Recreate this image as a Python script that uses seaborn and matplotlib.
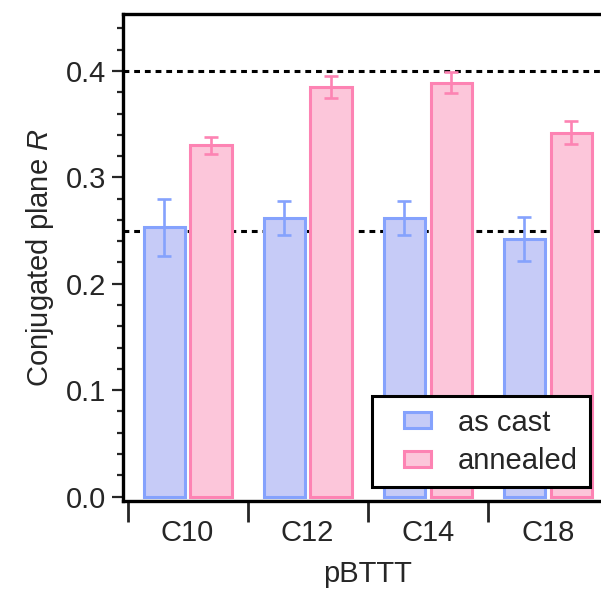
import matplotlib
matplotlib.use("Agg")
import matplotlib.pyplot as plt
import seaborn as sns
import pandas as pd
import numpy as np
from matplotlib.patches import Patch, Rectangle
from matplotlib.legend_handler import HandlerPatch
from matplotlib.container import BarContainer
from matplotlib.ticker import FormatStrFormatter, MultipleLocator, FixedLocator

# ---- data ----
categories = ["C10", "C12", "C14", "C18"]
conditions = ["as cast", "annealed"]
as_cast = [0.253, 0.262, 0.262, 0.242]
as_cast_err = [0.027, 0.016, 0.016, 0.021]
annealed = [0.330, 0.385, 0.389, 0.342]
annealed_err = [0.008, 0.010, 0.010, 0.011]
ref_lines = [0.25, 0.40]

fill_colors = ["#c6cbf7", "#fcc6da"]
edge_colors = ["#85a2fd", "#fd83b3"]

sns.set_style("ticks")
plt.rcParams["font.family"] = ["Liberation Sans", "DejaVu Sans"]
plt.rcParams["mathtext.fontset"] = "custom"
plt.rcParams["mathtext.rm"] = "Liberation Sans"
plt.rcParams["mathtext.it"] = "Liberation Sans:italic"

df = pd.DataFrame({
    "pBTTT": categories * 2,
    "cond": [conditions[0]] * len(categories) + [conditions[1]] * len(categories),
    "R": as_cast + annealed,
})

fig = plt.figure(figsize=(6.01, 5.91), dpi=100)
ax = fig.add_axes([123 / 601, 1 - 501 / 591, 489.4 / 601, 487 / 591])

sns.barplot(data=df, x="pBTTT", y="R", hue="cond", order=categories,
            hue_order=conditions, palette=fill_colors, saturation=1,
            width=0.78, gap=0.12, errorbar=None, linewidth=2.2,
            legend=False, ax=ax)

values = [as_cast, annealed]
errs = [as_cast_err, annealed_err]
bar_containers = [c for c in ax.containers if isinstance(c, BarContainer)]
for ci, cont in enumerate(bar_containers):
    xs = []
    for p in cont.patches:
        p.set_edgecolor(edge_colors[ci])
        p.set_linewidth(2.2)
        p.set_zorder(1)
        xs.append(p.get_x() + p.get_width() / 2)
    ax.errorbar(xs, values[ci], yerr=errs[ci], fmt="none",
                ecolor=edge_colors[ci], elinewidth=1.9, capsize=4.8,
                capthick=1.9, zorder=3)

for yv in ref_lines:
    ax.axhline(yv, color="black", lw=2.2, dashes=(1.9, 1.6), zorder=0.5)

ax.set_ylim(-0.0042, 0.4536)
ax.set_xlim(-0.5375, 3.5375)

ax.yaxis.set_major_locator(MultipleLocator(0.1))
ax.yaxis.set_minor_locator(MultipleLocator(0.02))
ax.yaxis.set_major_formatter(FormatStrFormatter("%.1f"))
ax.xaxis.set_minor_locator(FixedLocator([-0.5, 0.5, 1.5, 2.5, 3.5]))

ax.tick_params(axis="y", which="major", length=8, width=1.6, labelsize=21, pad=4)
ax.tick_params(axis="y", which="minor", length=4.5, width=1.6)
ax.tick_params(axis="x", which="major", length=0, labelsize=21, pad=13)
ax.tick_params(axis="x", which="minor", length=15, width=2)

for s in ax.spines.values():
    s.set_linewidth(2.4)
    s.set_color("black")

ax.set_ylabel("Conjugated plane $\\mathit{R}$", fontsize=21, labelpad=7)
ax.set_xlabel("pBTTT", fontsize=21, labelpad=9)


def make_rect(legend, orig_handle, xdescent, ydescent, width, height, fontsize):
    w, h = 19.4, 11.5
    return Rectangle((-xdescent + width - w, -ydescent + (height - h) / 2), w, h)


handles = [Patch(facecolor=fill_colors[i], edgecolor=edge_colors[i], linewidth=2.2)
           for i in range(len(conditions))]
leg = ax.legend(handles, conditions, loc="lower right",
                bbox_to_anchor=(590 / 601, 1 - 487 / 591),
                bbox_transform=fig.transFigure, borderaxespad=0,
                fontsize=21, frameon=True, fancybox=False, framealpha=1,
                edgecolor="black", handlelength=1.6, handleheight=0.7,
                handletextpad=0.92, labelspacing=0.35, borderpad=0.42,
                handler_map={Patch: HandlerPatch(patch_func=make_rect)})
leg.get_frame().set_linewidth(2.2)

fig.savefig("out.png", dpi=100)
